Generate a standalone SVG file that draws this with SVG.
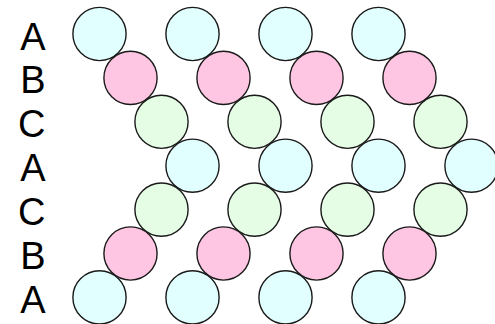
<svg xmlns="http://www.w3.org/2000/svg" width="495" height="324" viewBox="0 0 495 324">
<style>
.l{font-family:"Liberation Sans",Arial,sans-serif;font-size:38px;fill:#000;text-anchor:end}
circle{stroke:#1a1a1a;stroke-width:1.4}
.a{fill:#e2ffff}.b{fill:#ffc6e3}.c{fill:#e4fde4}
</style>
<rect width="495" height="324" fill="#fff"/>
<g id="labels">
<text class="l" x="45.5" y="49.5">A</text>
<text class="l" x="45.5" y="93.4">B</text>
<text class="l" x="45.5" y="137.3">C</text>
<text class="l" x="45.5" y="181.2">A</text>
<text class="l" x="45.5" y="225.1">C</text>
<text class="l" x="45.5" y="269">B</text>
<text class="l" x="45.5" y="312.9">A</text>
</g>
<g id="row1">
<g id="r1c1"><circle class="a" cx="99.5" cy="34" r="26.6"/></g>
<g id="r1c2"><circle class="a" cx="192.5" cy="34" r="26.6"/></g>
<g id="r1c3"><circle class="a" cx="285.5" cy="34" r="26.6"/></g>
<g id="r1c4"><circle class="a" cx="378.5" cy="34" r="26.6"/></g>
</g>
<g id="row2">
<g id="r2c1"><circle class="b" cx="130.5" cy="77.9" r="26.6"/></g>
<g id="r2c2"><circle class="b" cx="223.5" cy="77.9" r="26.6"/></g>
<g id="r2c3"><circle class="b" cx="316.5" cy="77.9" r="26.6"/></g>
<g id="r2c4"><circle class="b" cx="409.5" cy="77.9" r="26.6"/></g>
</g>
<g id="row3">
<g id="r3c1"><circle class="c" cx="161.5" cy="121.8" r="26.6"/></g>
<g id="r3c2"><circle class="c" cx="254.5" cy="121.8" r="26.6"/></g>
<g id="r3c3"><circle class="c" cx="347.5" cy="121.8" r="26.6"/></g>
<g id="r3c4"><circle class="c" cx="440.5" cy="121.8" r="26.6"/></g>
</g>
<g id="row4">
<g id="r4c1"><circle class="a" cx="192.5" cy="165.7" r="26.6"/></g>
<g id="r4c2"><circle class="a" cx="285.5" cy="165.7" r="26.6"/></g>
<g id="r4c3"><circle class="a" cx="378.5" cy="165.7" r="26.6"/></g>
<g id="r4c4"><circle class="a" cx="471.5" cy="165.7" r="26.6"/></g>
</g>
<g id="row5">
<g id="r5c1"><circle class="c" cx="161.5" cy="209.6" r="26.6"/></g>
<g id="r5c2"><circle class="c" cx="254.5" cy="209.6" r="26.6"/></g>
<g id="r5c3"><circle class="c" cx="347.5" cy="209.6" r="26.6"/></g>
<g id="r5c4"><circle class="c" cx="440.5" cy="209.6" r="26.6"/></g>
</g>
<g id="row6">
<g id="r6c1"><circle class="b" cx="130.5" cy="253.5" r="26.6"/></g>
<g id="r6c2"><circle class="b" cx="223.5" cy="253.5" r="26.6"/></g>
<g id="r6c3"><circle class="b" cx="316.5" cy="253.5" r="26.6"/></g>
<g id="r6c4"><circle class="b" cx="409.5" cy="253.5" r="26.6"/></g>
</g>
<g id="row7">
<g id="r7c1"><circle class="a" cx="99.5" cy="297.4" r="26.6"/></g>
<g id="r7c2"><circle class="a" cx="192.5" cy="297.4" r="26.6"/></g>
<g id="r7c3"><circle class="a" cx="285.5" cy="297.4" r="26.6"/></g>
<g id="r7c4"><circle class="a" cx="378.5" cy="297.4" r="26.6"/></g>
</g>
</svg>
